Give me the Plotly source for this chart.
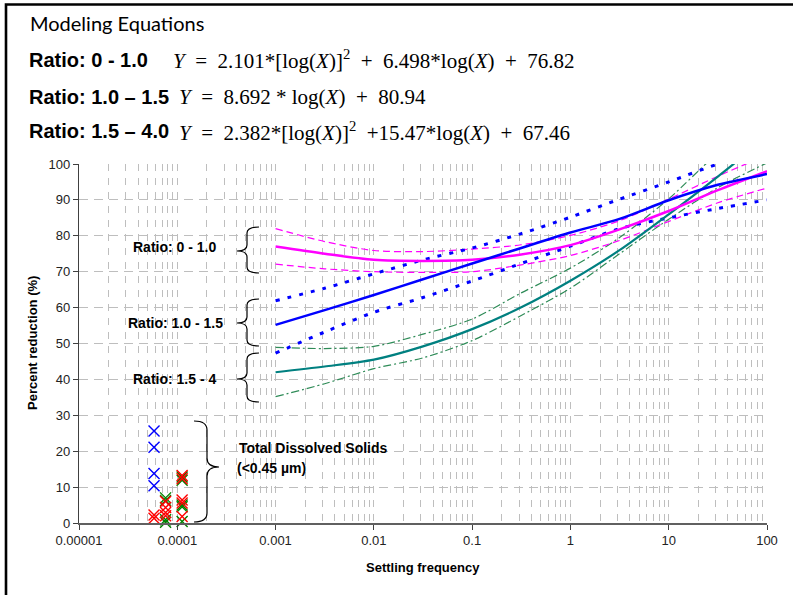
import plotly.graph_objects as go

# ---------------- data ----------------
x_fit = [0.001, 0.00316, 0.01, 0.0316, 0.1, 0.316, 1, 3.16, 10, 31.6, 100]

r01_fit = [77.0, 75.0, 73.3, 73.0, 73.3, 74.8, 77.4, 81.8, 86.9, 92.7, 98.0]
r01_upper = [82.0, 78.4, 75.9, 75.6, 76.3, 77.5, 80.1, 84.2, 90.2, 96.6, 102.5]
r01_lower = [72.1, 70.8, 70.0, 69.8, 70.0, 71.9, 74.5, 78.7, 84.0, 89.2, 93.3]

r15_fit = [55.2, 59.3, 63.5, 67.9, 72.3, 76.6, 80.9, 84.7, 89.9, 94.2, 97.2]
r15_upper = [61.9, 65.4, 69.4, 73.3, 76.6, 80.6, 85.2, 90.2, 95.0, 100.0, 104.0]
r15_lower = [47.3, 53.2, 58.7, 62.8, 67.4, 72.3, 77.1, 82.0, 85.0, 87.6, 90.0]

r40_fit = [42.0, 43.6, 45.5, 49.2, 54.0, 60.1, 67.5, 76.0, 86.0, 96.5, 107.5]
r40_upper = [48.9, 48.6, 49.2, 52.6, 56.8, 64.1, 71.0, 79.5, 90.3, 103.0, 113.0]
r40_lower = [35.2, 38.8, 43.0, 46.0, 50.8, 57.8, 65.4, 75.0, 84.6, 93.4, 100.3]

tds_blue_x = [5.8e-5, 5.8e-5, 5.8e-5, 5.8e-5]
tds_blue_y = [25.6, 21.1, 13.8, 10.4]
tds_red_x = [5.8e-5, 5.8e-5, 7.6e-5, 7.6e-5, 7.6e-5, 7.6e-5,
             1.12e-4, 1.12e-4, 1.12e-4, 1.12e-4, 1.12e-4]
tds_red_y = [2.2, 1.3, 6.0, 4.3, 2.9, 2.0, 13.2, 12.3, 6.4, 5.6, 1.8]
tds_green_x = [7.6e-5, 7.6e-5, 7.6e-5, 7.6e-5,
               1.12e-4, 1.12e-4, 1.12e-4, 1.12e-4, 1.12e-4]
tds_green_y = [7.0, 6.3, 0.9, 0.2, 12.8, 11.9, 5.0, 4.5, 0.4]

x_tick_vals = [1e-5, 1e-4, 1e-3, 1e-2, 1e-1, 1, 10, 100]
x_tick_text = ["0.00001", "0.0001", "0.001", "0.01", "0.1", "1", "10", "100"]

# ---------------- layout geometry ----------------
W, H = 793, 595
L, R, T, B = 79, 26, 164, 72
PW, PH = W - L - R, H - T - B


def px(x):
    return (x - L) / PW


def py(y):
    return (H - B - y) / PH


fig = go.Figure()

MAG = "#FF00FF"
BLU = "#0000FF"
TEAL = "#008080"
SEA = "#2E8B57"


def line(x, y, color, width, dash="solid"):
    fig.add_trace(go.Scatter(x=x, y=y, mode="lines",
                             line=dict(color=color, width=width, dash=dash, shape="spline", smoothing=0.8),
                             hoverinfo="skip", showlegend=False))


line(x_fit, r40_upper, SEA, 1.2, "8px,3px,2px,3px")
line(x_fit, r40_lower, SEA, 1.2, "8px,3px,2px,3px")
line(x_fit, r01_upper, MAG, 1.2, "7px,4px")
line(x_fit, r01_lower, MAG, 1.2, "7px,4px")
line(x_fit, r15_upper, BLU, 3, "4px,8px")
line(x_fit, r15_lower, BLU, 3, "4px,8px")
line(x_fit, r40_fit, TEAL, 2.2)
line(x_fit, r01_fit, MAG, 2.5)
line(x_fit, r15_fit, BLU, 2.5)


def marks(x, y, color):
    fig.add_trace(go.Scatter(x=x, y=y, mode="markers", cliponaxis=False,
                             marker=dict(symbol="x-thin", size=11, line=dict(color=color, width=1.4)),
                             hoverinfo="skip", showlegend=False))


marks(tds_blue_x, tds_blue_y, "#0000FF")
marks(tds_green_x, tds_green_y, "#008000")
marks(tds_red_x, tds_red_y, "#FF0000")

# ---------------- braces ----------------
shapes = []


def brace(xa, xv, xt, y0, ym, y1, r=6):
    p = (f"M {px(xa)},{py(y0)} Q {px(xv)},{py(y0)} {px(xv)},{py(y0 + r)} "
         f"L {px(xv)},{py(ym - r)} Q {px(xv)},{py(ym)} {px(xt)},{py(ym)} "
         f"Q {px(xv)},{py(ym)} {px(xv)},{py(ym + r)} "
         f"L {px(xv)},{py(y1 - r)} Q {px(xv)},{py(y1)} {px(xa)},{py(y1)}")
    shapes.append(dict(type="path", xref="paper", yref="paper", path=p,
                       line=dict(color="black", width=1.2)))


brace(259, 247, 237, 227, 251, 273)
brace(259, 247, 237, 299, 323, 346)
brace(259, 247, 237, 353, 379, 402)
brace(194, 207, 219, 421, 467, 522, r=9)

# outer frame (left and top)
shapes.append(dict(type="path", xref="paper", yref="paper",
                   path=f"M {px(6)},{py(600)} L {px(6)},{py(4.5)} L {px(800)},{py(4.5)}",
                   line=dict(color="black", width=2.6)))

fig.update_layout(shapes=shapes)

# ---------------- texts ----------------
ann = []


def txt(x, y, s, size, family="Liberation Sans", bold=False, xanchor="left", angle=0, color="black"):
    if bold:
        s = f"<b>{s}</b>"
    ann.append(dict(x=px(x), y=py(y), xref="paper", yref="paper", text=s, showarrow=False,
                    xanchor=xanchor, yanchor="middle", textangle=angle,
                    font=dict(family=family, size=size, color=color)))


G = "&nbsp;&nbsp;"
S = "&nbsp;"
txt(28, 23, "Modeling Equations", 20, family="Lato")
txt(27, 60, "Ratio: 0 - 1.0", 20, bold=True)
txt(27, 97, "Ratio: 1.0 – 1.5", 20, bold=True)
txt(27, 131, "Ratio: 1.5 – 4.0", 20, bold=True)
txt(171, 60, f"<i>Y</i>{G}={G}2.101*[log(<i>X</i>)]<sup>2</sup>{G}+{G}6.498*log(<i>X</i>){G}+{G}76.82",
    21, family="Liberation Serif")
txt(177, 97, f"<i>Y</i>{G}={G}8.692{S}*{S}log(<i>X</i>){G}+{G}80.94", 21, family="Liberation Serif")
txt(177, 131, f"<i>Y</i>{G}={G}2.382*[log(<i>X</i>)]<sup>2</sup>{G}+15.47*log(<i>X</i>){G}+{G}67.46",
    21, family="Liberation Serif")

txt(174, 247, "Ratio: 0 - 1.0", 14, bold=True, xanchor="center")
txt(175, 323, "Ratio: 1.0 - 1.5", 14, bold=True, xanchor="center")
txt(174, 379, "Ratio: 1.5 - 4", 14, bold=True, xanchor="center")
txt(237, 448, "Total Dissolved Solids", 14, bold=True)
txt(235, 468, "(<0.45 µm)", 14, bold=True)

txt(32, 343, "Percent reduction (%)", 13, bold=True, xanchor="center", angle=-90)
txt(423, 567, "Settling frequency", 13, bold=True, xanchor="center")

fig.update_layout(annotations=ann)

GRID = "#BEBEBE"
fig.update_xaxes(type="log", range=[-5, 2], tickvals=x_tick_vals, ticktext=x_tick_text,
                 showgrid=True, gridcolor=GRID, griddash="7px,7px", gridwidth=1,
                 minor=dict(dtick="D1", showgrid=True, gridcolor=GRID, griddash="7px,7px", gridwidth=1, ticks=""),
                 showline=True, linecolor="#606060", linewidth=1.5,
                 ticks="outside", ticklen=5, tickcolor="#404040",
                 tickfont=dict(family="Liberation Sans", size=13, color="#222"), zeroline=False)
fig.update_yaxes(range=[0, 100], dtick=10, showgrid=True, gridcolor=GRID, griddash="9px,6px", gridwidth=1,
                 showline=True, linecolor="#404040", linewidth=1.2,
                 ticks="outside", ticklen=5, tickcolor="#404040",
                 tickfont=dict(family="Liberation Sans", size=13, color="#222"), zeroline=False)

fig.update_layout(width=W, height=H, margin=dict(l=L, r=R, t=T, b=B, pad=0),
                  paper_bgcolor="white", plot_bgcolor="white", showlegend=False)

fig.write_html("out.html", config={"displayModeBar": False},
               post_script="document.body.style.margin='0px';document.body.style.overflow='hidden';")
